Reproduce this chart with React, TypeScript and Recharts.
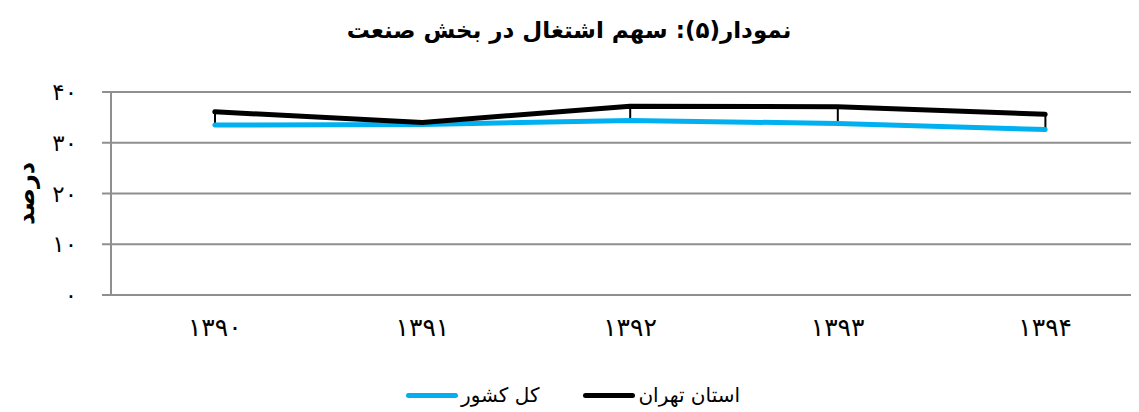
import { Bar, CartesianGrid, ComposedChart, Line, XAxis, YAxis } from 'recharts'

const years = ['۱۳۹۰', '۱۳۹۱', '۱۳۹۲', '۱۳۹۳', '۱۳۹۴']
const tehran = [36.1, 34.0, 37.2, 37.1, 35.6]
const country = [33.5, 33.6, 34.4, 33.8, 32.6]
const yTicks = [0, 10, 20, 30, 40]

const seriesNames = { tehran: 'استان تهران', country: 'کل کشور' }
const colors = { tehran: '#000000', country: '#00B0F0', grid: '#8f8f8f' }

const faDigits = '۰۱۲۳۴۵۶۷۸۹'
const toFa = (n: number) => String(n).replace(/\d/g, (d) => faDigits[+d])

const data = years.map((year, i) => ({
  year,
  tehran: tehran[i],
  country: country[i],
  drop: [country[i], tehran[i]],
}))

const font = '"DejaVu Sans", sans-serif'

function LegendItem({ name, color }: { name: string; color: string }) {
  return (
    <div style={{ display: 'flex', alignItems: 'center', gap: 3 }}>
      <span style={{ fontSize: 20 }}>{name}</span>
      <span style={{ width: 52, height: 5, borderRadius: 3, background: color, display: 'inline-block' }} />
    </div>
  )
}

export default function App() {
  return (
    <div style={{ position: 'relative', width: 1131, height: 404, overflow: 'hidden', fontFamily: font, color: '#000' }}>
      <div style={{ position: 'absolute', top: 9, left: 0, width: 1122, textAlign: 'center', fontSize: 23, fontWeight: 'bold', direction: 'rtl' }}>
        نمودار(۵): سهم اشتغال در بخش صنعت
      </div>
      <ComposedChart width={1150} height={404} data={data} margin={{ top: 84, right: 9, left: 0, bottom: 77 }}>
        <CartesianGrid vertical={false} stroke={colors.grid} strokeWidth={2} />
        <XAxis
          dataKey="year"
          height={40}
          tickLine={false}
          axisLine={{ stroke: colors.grid, strokeWidth: 2 }}
          tickMargin={17}
          tick={{ fill: '#000', fontSize: 25, fontFamily: font }}
        />
        <YAxis
          width={103}
          domain={[0, 40]}
          ticks={yTicks}
          tickFormatter={toFa}
          tickSize={9}
          tickMargin={25}
          axisLine={{ stroke: colors.grid, strokeWidth: 2 }}
          tickLine={{ stroke: colors.grid, strokeWidth: 2 }}
          tick={{ fill: '#000', fontSize: 23, fontFamily: font }}
          label={{
            value: 'درصد',
            angle: -90,
            position: 'insideLeft',
            offset: 17,
            style: { textAnchor: 'middle', fontSize: 24, fontWeight: 'bold', fill: '#000', fontFamily: font },
          }}
        />
        <Line
          dataKey="country"
          name={seriesNames.country}
          stroke={colors.country}
          strokeWidth={5}
          strokeLinecap="round"
          dot={false}
          isAnimationActive={false}
        />
        <Line
          dataKey="tehran"
          name={seriesNames.tehran}
          stroke={colors.tehran}
          strokeWidth={5}
          strokeLinecap="round"
          dot={false}
          isAnimationActive={false}
        />
        <Bar dataKey="drop" barSize={2} fill="#000" isAnimationActive={false} />
      </ComposedChart>
      <div
        style={{
          position: 'absolute',
          top: 375,
          left: 0,
          width: 1130,
          display: 'flex',
          justifyContent: 'center',
          gap: 44,
          direction: 'rtl',
        }}
      >
        <LegendItem name={seriesNames.tehran} color={colors.tehran} />
        <LegendItem name={seriesNames.country} color={colors.country} />
      </div>
    </div>
  )
}
